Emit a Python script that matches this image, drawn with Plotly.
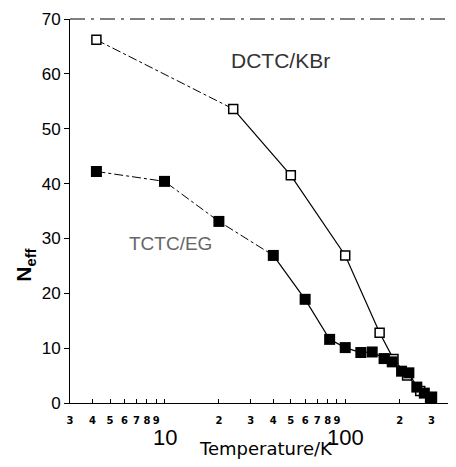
import plotly.graph_objects as go
import math

# DCTC/KBr (open squares)
dctc_T = [4.2, 24, 50, 100, 155, 185, 220, 260, 295]
dctc_N = [66.2, 53.6, 41.5, 26.9, 12.8, 8.0, 5.0, 2.2, 0.6]

# TCTC/EG (filled squares)
tctc_T = [4.2, 10, 20, 40, 60, 82, 100, 122, 141, 164, 182, 205, 225, 249, 274, 301, 300]
tctc_N = [42.2, 40.4, 33.1, 26.9, 18.9, 11.6, 10.1, 9.2, 9.3, 8.1, 7.5, 5.8, 5.5, 2.9, 1.8, 1.1, 0.3]

minor_vals = [3, 4, 5, 6, 7, 8, 9, 10, 20, 30, 40, 50, 60, 70, 80, 90, 100, 200, 300, 400]
minor_text = ["3", "4", "5", "6", "7", "8", "9", "", "2", "3", "4", "5", "6", "7", "8", "9", "", "2", "3", "4"]
y_ticks = [0, 10, 20, 30, 40, 50, 60, 70]
decade_labels = [10, 100]

font = "Liberation Sans, Arial, sans-serif"
fig = go.Figure()

# low-temperature segments drawn dashed, the rest solid
fig.add_trace(go.Scatter(x=dctc_T[:2], y=dctc_N[:2], mode="lines",
                         line=dict(color="black", width=1, dash="dashdot")))
fig.add_trace(go.Scatter(x=dctc_T[1:], y=dctc_N[1:], mode="lines",
                         line=dict(color="black", width=1.2)))
fig.add_trace(go.Scatter(x=tctc_T[:4], y=tctc_N[:4], mode="lines",
                         line=dict(color="black", width=1, dash="dashdot")))
fig.add_trace(go.Scatter(x=tctc_T[3:], y=tctc_N[3:], mode="lines",
                         line=dict(color="black", width=1.2)))
fig.add_trace(go.Scatter(x=dctc_T, y=dctc_N, mode="markers",
                         marker=dict(symbol="square", size=9, color="white",
                                     line=dict(color="black", width=1.5))))
fig.add_trace(go.Scatter(x=tctc_T, y=tctc_N, mode="markers",
                         marker=dict(symbol="square", size=11, color="black",
                                     line=dict(color="black", width=0))))

# the page body adds an 8 px margin, so the figure is 8 px smaller each way
fig.update_layout(
    width=448, height=459,
    margin=dict(l=62, r=1, t=11, b=64),
    paper_bgcolor="white", plot_bgcolor="white",
    showlegend=False,
    font=dict(family=font, color="black"),
    xaxis=dict(type="log", range=[math.log10(3), math.log10(405)],
               tickvals=minor_vals, ticktext=minor_text,
               ticks="inside", ticklen=4, tickcolor="black",
               tickfont=dict(size=10, family="DejaVu Sans", weight="bold", color="black"),
               ticklabelstandoff=8,
               showgrid=False, zeroline=False,
               showline=True, linecolor="black", linewidth=1),
    yaxis=dict(range=[0, 70], tickvals=y_ticks,
               ticks="outside", ticklen=5, tickcolor="black",
               tickfont=dict(size=17, color="black"),
               showgrid=False, zeroline=False,
               showline=True, linecolor="black", linewidth=1),
)

# top and right edges of the frame, broken like the scan
fig.add_shape(type="line", xref="paper", yref="paper", x0=0, x1=1, y0=1, y1=1,
              layer="above", line=dict(color="black", width=1, dash="longdashdot"))
fig.add_shape(type="line", xref="paper", yref="paper", x0=1, x1=1, y0=0, y1=1,
              layer="above", line=dict(color="black", width=1, dash="longdash"))

for v in decade_labels:
    fig.add_annotation(x=math.log10(v), y=0, xref="x", yref="y", yshift=-34,
                       xanchor="center", text=str(v), showarrow=False,
                       font=dict(size=22, color="black"))

fig.add_annotation(x=0.509, y=0, xref="paper", yref="paper", yshift=-58,
                   xanchor="center", text="Temperature/K", showarrow=False,
                   font=dict(size=18, family="DejaVu Sans", color="black"))
fig.add_annotation(x=-0.117, y=0.36, xref="paper", yref="paper",
                   xanchor="center", yanchor="middle",
                   text="<b>N<sub>eff</sub></b>", showarrow=False, textangle=-90,
                   font=dict(size=21, color="black"))
fig.add_annotation(x=math.log10(44), y=62.4, xref="x", yref="y",
                   xanchor="center", text="DCTC/KBr", showarrow=False,
                   font=dict(size=21, color="#333333"))
fig.add_annotation(x=math.log10(10.8), y=29.1, xref="x", yref="y",
                   xanchor="center", text="TCTC/EG", showarrow=False,
                   font=dict(size=19, color="#666666"))

fig.write_html("out.html")
